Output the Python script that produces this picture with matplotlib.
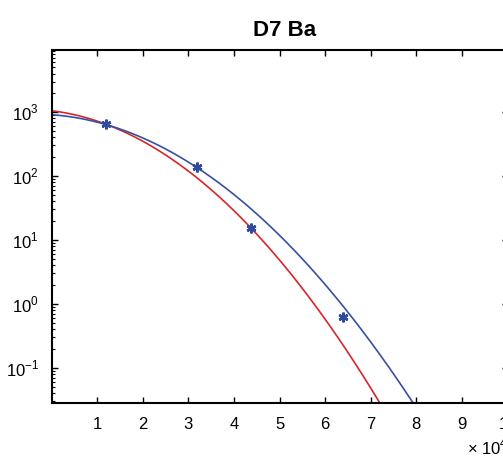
# Plot of the D7 Ba data points with two Gaussian fits on a log y axis
# The axes run past the right edge of the figure, as in the original picture

import numpy as np
import matplotlib.pyplot as plt

plt.rcParams['font.family'] = ['Liberation Sans', 'DejaVu Sans']
plt.rcParams['mathtext.fontset'] = 'custom'
plt.rcParams['mathtext.rm'] = 'Liberation Sans'

# measured points (x in units of the x10 multiplier)
point_x = [1.20, 3.18, 4.37, 6.39]
point_y = [650, 137, 15.5, 0.63]

# Gaussian fits: amplitude, centre, sigma
red_fit = [1107, -0.56, 1.687]
blue_fit = [929, -0.39, 1.824]

x_ticks = [1, 2, 3, 4, 5, 6, 7, 8, 9, 10]
y_ticks = [1e-1, 1e0, 1e1, 1e2, 1e3]
y_labels = ['$10^{-1}$', '$10^{0}$', '$10^{1}$', '$10^{2}$', '$10^{3}$']


def gauss(x, fit):
    amp, centre, sigma = fit
    return amp * np.exp(-(x - centre) ** 2 / (2 * sigma ** 2))


def main():
    fig = plt.figure(figsize=(5.03, 4.57), dpi=100)
    ax = fig.add_axes([0.1024, 0.1182, 0.9066, 0.7724])

    xs = np.linspace(0, 10, 400)
    ax.plot(xs, gauss(xs, red_fit), color='#d7262b', lw=1.2)           # red fit
    ax.plot(xs, gauss(xs, blue_fit), color='#3650a6', lw=1.2)          # blue fit
    ax.plot(point_x, point_y, linestyle='none', marker=(6, 2, 0),
            markersize=7, mew=1.8, color='#2f4a9c')                    # data

    ax.set_yscale('log')
    ax.set_xlim(0, 10)
    ax.set_ylim(10 ** -1.55, 10 ** 3.97)
    ax.set_xticks(x_ticks)
    ax.set_xticklabels([str(t) for t in x_ticks])
    ax.set_yticks(y_ticks)
    ax.set_yticklabels(y_labels)

    ax.tick_params(direction='in', top=True, right=True, labelsize=12,
                   length=4, width=1)
    ax.tick_params(axis='x', pad=10)
    ax.tick_params(axis='y', pad=9)
    ax.tick_params(which='minor', direction='in', length=2, width=0.8,
                   right=True)
    ax.tick_params(axis='x', which='minor', bottom=False, top=False)
    for s in ax.spines.values():
        s.set_linewidth(1.5)

    ax.set_title('D7 Ba', fontsize=16, fontweight='bold', pad=10, x=0.51)

    # exponent multiplier, cut off at the right edge
    fig.text(0.928, 0.0, '× 10$^{4}$', fontsize=12, ha='left', va='bottom')

    plt.savefig('out.png', dpi=100)


if __name__ == "__main__":
    main()
